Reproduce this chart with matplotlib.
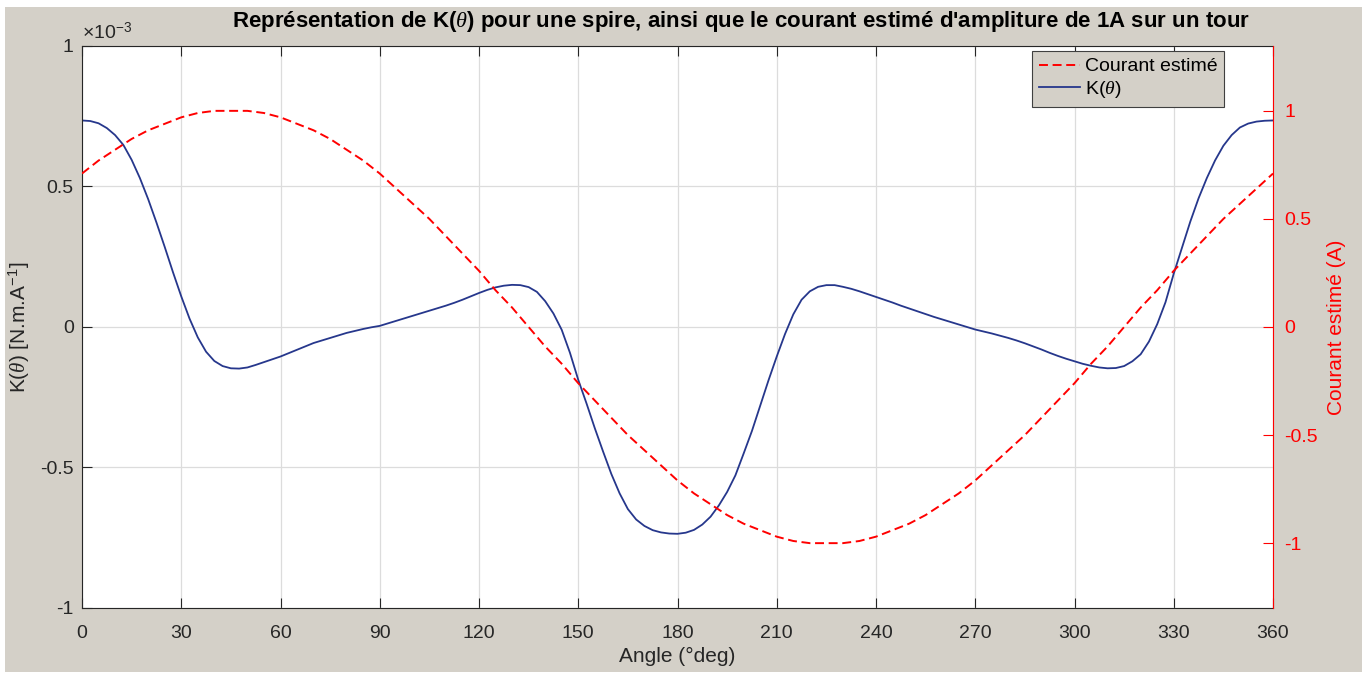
import matplotlib
matplotlib.use("Agg")
import matplotlib.pyplot as plt
from matplotlib.patches import Rectangle

plt.rcParams['font.family'] = ['Liberation Sans', 'DejaVu Sans']
plt.rcParams['axes.unicode_minus'] = False
plt.rcParams['mathtext.fontset'] = 'custom'
plt.rcParams['mathtext.rm'] = 'Liberation Sans'
plt.rcParams['mathtext.it'] = 'Liberation Serif:italic'

# angle en degres pour K (pas de 2.5 deg)
angle_k = [i * 2.5 for i in range(145)]

# K(theta), en unites de 1e-3 N.m/A
k_theta_e3 = [
    0.735, 0.733, 0.725, 0.708, 0.683, 0.648, 0.595, 0.530, 0.455, 0.372,
    0.285, 0.195, 0.109, 0.030, -0.037, -0.088, -0.121, -0.139, -0.147, -0.148,
    -0.144, -0.135, -0.125, -0.115, -0.105, -0.093, -0.081, -0.069, -0.057, -0.048,
    -0.039, -0.030, -0.021, -0.014, -0.007, -0.001, 0.004, 0.013, 0.022, 0.031,
    0.040, 0.049, 0.058, 0.067, 0.076, 0.086, 0.097, 0.109, 0.121, 0.132,
    0.141, 0.147, 0.150, 0.149, 0.142, 0.125, 0.092, 0.048, -0.010, -0.092,
    -0.188, -0.272, -0.360, -0.443, -0.523, -0.592, -0.648, -0.685, -0.708, -0.723,
    -0.731, -0.735, -0.736, -0.732, -0.722, -0.703, -0.675, -0.635, -0.587, -0.528,
    -0.450, -0.370, -0.280, -0.190, -0.105, -0.025, 0.045, 0.097, 0.127, 0.143,
    0.149, 0.149, 0.143, 0.136, 0.127, 0.117, 0.107, 0.097, 0.087, 0.076,
    0.066, 0.056, 0.046, 0.036, 0.027, 0.018, 0.009, 0.000, -0.009, -0.016,
    -0.023, -0.031, -0.039, -0.048, -0.058, -0.069, -0.080, -0.092, -0.103, -0.113,
    -0.122, -0.131, -0.138, -0.144, -0.147, -0.146, -0.139, -0.122, -0.097, -0.052,
    0.010, 0.088, 0.190, 0.283, 0.375, 0.458, 0.530, 0.593, 0.645, 0.683,
    0.710, 0.724, 0.731, 0.734, 0.735,
]

# angle en degres pour le courant (pas de 5 deg)
angle_i = list(range(0, 361, 5))

# courant estime (A)
courant = [
    0.71, 0.77, 0.82, 0.87, 0.91, 0.94, 0.97, 0.99, 1.00, 1.00,
    1.00, 0.99, 0.97, 0.94, 0.91, 0.87, 0.82, 0.77, 0.71, 0.64,
    0.57, 0.50, 0.42, 0.34, 0.26, 0.17, 0.09, 0.00, -0.09, -0.17,
    -0.26, -0.34, -0.42, -0.50, -0.57, -0.64, -0.71, -0.77, -0.82, -0.87,
    -0.91, -0.94, -0.97, -0.99, -1.00, -1.00, -1.00, -0.99, -0.97, -0.94,
    -0.91, -0.87, -0.82, -0.77, -0.71, -0.64, -0.57, -0.50, -0.42, -0.34,
    -0.26, -0.17, -0.09, 0.00, 0.09, 0.17, 0.26, 0.34, 0.42, 0.50,
    0.57, 0.64, 0.71,
]

x_ticks = list(range(0, 361, 30))
k_ticks = [-1, -0.5, 0, 0.5, 1]
k_tick_labels = ['-1', '-0.5', '0', '0.5', '1']
i_ticks = [-1, -0.5, 0, 0.5, 1]
i_tick_labels = ['-1', '-0.5', '0', '0.5', '1']

gris = '#D4D0C8'
bleu = '#26378C'
rouge = '#FF0000'

fig = plt.figure(figsize=(13.71, 6.74), dpi=100, facecolor='white')
fig.patches.append(Rectangle((5 / 1371, 2 / 674), 1357 / 1371, 665 / 674,
                             transform=fig.transFigure, facecolor=gris,
                             edgecolor='none', zorder=-10))

ax = fig.add_axes([82 / 1371, 1 - 608 / 674, 1191 / 1371, 562 / 674])
ax.set_facecolor('white')
ax2 = ax.twinx()

l_k, = ax.plot(angle_k, k_theta_e3, color=bleu, lw=1.3, label=r'K($\theta$)')
l_i, = ax2.plot(angle_i, courant, color=rouge, lw=1.4, linestyle='--',
                dashes=(4.6, 2.4), label='Courant estimé')

ax.set_xlim(0, 360)
ax.set_ylim(-1, 1)
ax.set_xticks(x_ticks)
ax.set_xticklabels([str(v) for v in x_ticks])
ax.set_yticks(k_ticks)
ax.set_yticklabels(k_tick_labels)
ax.grid(True, color='#DCDCDC', lw=0.9)
ax.set_axisbelow(True)
ax.tick_params(axis='both', direction='in', length=7, width=0.8, labelsize=14,
               colors='#262626', top=True, right=False)
ax.tick_params(axis='x', pad=12)
ax.tick_params(axis='y', pad=6)
for s in ['left', 'top', 'bottom']:
    ax.spines[s].set_color('#262626')
    ax.spines[s].set_linewidth(0.8)
ax.spines['right'].set_visible(False)

ax2.set_ylim(-1.3, 1.3)
ax2.set_yticks(i_ticks)
ax2.set_yticklabels(i_tick_labels)
ax2.tick_params(axis='y', direction='in', length=7, width=0.8, labelsize=14,
                colors=rouge, pad=8)
for s in ['left', 'top', 'bottom']:
    ax2.spines[s].set_visible(False)
ax2.spines['right'].set_color(rouge)
ax2.spines['right'].set_linewidth(0.8)

ax.set_xlabel('Angle (°deg)', fontsize=15, color='#262626', labelpad=4)
ax.set_ylabel(r'K($\theta$) [N.m.A$^{-1}$]', fontsize=15, color='#262626', labelpad=6)
ax2.set_ylabel('Courant estimé (A)', fontsize=15, color=rouge, labelpad=7)

ax.text(0.0, 1.005, r'$\times$10$^{-3}$', transform=ax.transAxes, fontsize=14,
        color='#262626', ha='left', va='bottom')

fig.text(741 / 1371, 1 - 22 / 674,
         r"Représentation de K($\theta$) pour une spire, ainsi que le courant estimé d'ampliture de 1A sur un tour",
         fontsize=16, fontweight='bold', ha='center', va='center', color='black')

leg = ax2.legend([l_i, l_k], ['Courant estimé', r'K($\theta$)'], loc='upper right',
                 bbox_to_anchor=((1224 - 82) / 1191, (608 - 51) / 562),
                 borderaxespad=0, fontsize=14, fancybox=False, framealpha=1,
                 facecolor=gris, edgecolor='#404040', handlelength=2.1,
                 handletextpad=0.25, borderpad=0.35, labelspacing=0.2)
leg.get_frame().set_linewidth(0.8)

plt.savefig('out.png', dpi=100, facecolor='white')
plt.close()
